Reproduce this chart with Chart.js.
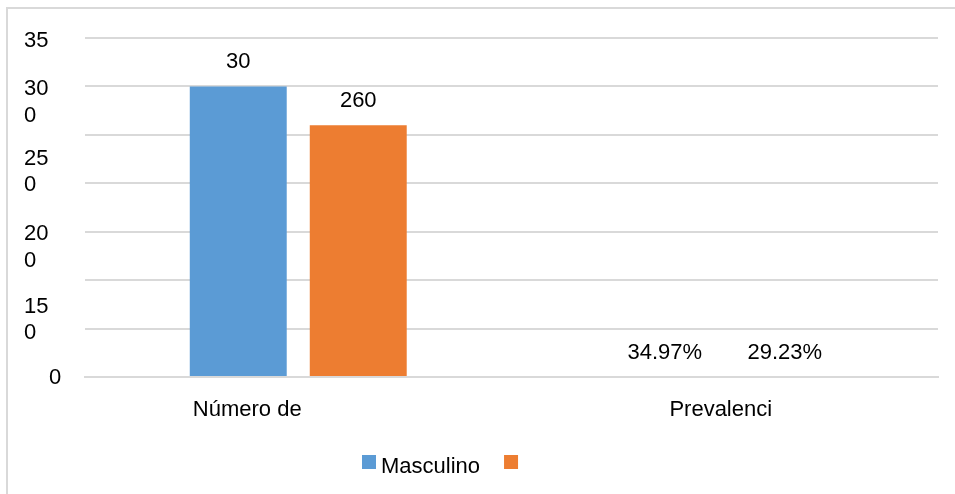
<!DOCTYPE html>
<html>
<head>
<meta charset="utf-8">
<script src="https://cdn.jsdelivr.net/npm/chart.js@4/dist/chart.umd.min.js"></script>
<style>
  html, body { margin: 0; padding: 0; background: #fff; }
</style>
</head>
<body>
<canvas id="grafico" width="955" height="494"></canvas>
<script>
// datos
const categorias = ['Número de', 'Prevalenci'];
const masculino = [300, 0.3497];
const femenino = [260, 0.2923];
const etiquetasMasculino = ['30', '34.97%'];
const etiquetasFemenino = ['260', '29.23%'];
const series = ['Masculino', ''];
const ticksY = [0, 50, 100, 150, 200, 250, 300, 350];
const etiquetasY = ['0', '', '', '15\n0', '20\n0', '25\n0', '30\n0', '35'];

const FUENTE = '22px "Liberation Sans", Arial, sans-serif';
const GRIS = '#d9d9d9';
const AZUL = '#5B9BD5';
const NARANJA = '#ED7D31';

// textos del eje, etiquetas de barras, leyenda y marco
const textos = {
  id: 'textos',
  afterDraw(chart) {
    const ctx = chart.ctx;
    const sx = chart.scales.x;
    const sy = chart.scales.y;
    ctx.save();

    // marco (solo arriba e izquierda)
    ctx.fillStyle = GRIS;
    ctx.fillRect(6, 7, 949, 2);
    ctx.fillRect(6, 7, 2, 487);

    ctx.font = FUENTE;
    ctx.fillStyle = '#000';
    ctx.textBaseline = 'alphabetic';

    // eje Y: las etiquetas partidas en dos lineas se reparten hacia abajo
    const bajada = { 0: 7, 150: 81, 200: 57, 250: 30, 300: 9, 350: 9 };
    ctx.textAlign = 'left';
    ticksY.forEach((v, i) => {
      if (!etiquetasY[i]) return;
      const y = sy.getPixelForValue(v) + bajada[v];
      const x = v === 0 ? 49 : 24;
      etiquetasY[i].split('\n').forEach((l, j) => ctx.fillText(l, x, y + j * 26.5));
    });

    // eje X
    ctx.textAlign = 'center';
    const desplazamiento = [-51, -4];
    categorias.forEach((c, i) => {
      ctx.fillText(c, sx.getPixelForValue(i) + desplazamiento[i], 416);
    });

    // etiquetas de valores
    const etiquetas = [etiquetasMasculino, etiquetasFemenino];
    chart.data.datasets.forEach((ds, d) => {
      chart.getDatasetMeta(d).data.forEach((bar, i) => {
        ctx.fillText(etiquetas[d][i], bar.x, bar.y - 18);
      });
    });

    // leyenda
    ctx.textAlign = 'left';
    let x = 362;
    chart.data.datasets.forEach(ds => {
      ctx.fillStyle = ds.backgroundColor;
      ctx.fillRect(x, 455, 14, 14);
      ctx.fillStyle = '#000';
      ctx.fillText(ds.label, x + 19, 473);
      x += 19 + ctx.measureText(ds.label).width + 24;
    });

    ctx.restore();
  }
};

new Chart(document.getElementById('grafico'), {
  type: 'bar',
  data: {
    labels: categorias,
    datasets: [
      { label: series[0], data: masculino, backgroundColor: AZUL },
      { label: series[1], data: femenino, backgroundColor: NARANJA }
    ]
  },
  options: {
    responsive: false,
    animation: false,
    layout: { padding: { left: 85, right: 17, top: 38, bottom: 117 } },
    categoryPercentage: 0.5627,
    barPercentage: 0.808,
    scales: {
      x: {
        ticks: { display: false },
        grid: { display: false, drawTicks: false },
        // linea base por encima de las barras
        border: { display: true, color: GRIS, width: 2, z: 1 }
      },
      y: {
        min: 0,
        max: 350,
        ticks: { stepSize: 50, display: false },
        grid: { color: GRIS, lineWidth: 2, drawTicks: false },
        border: { display: false }
      }
    },
    plugins: {
      legend: { display: false },
      tooltip: { enabled: false }
    }
  },
  plugins: [textos]
});
</script>
</body>
</html>
